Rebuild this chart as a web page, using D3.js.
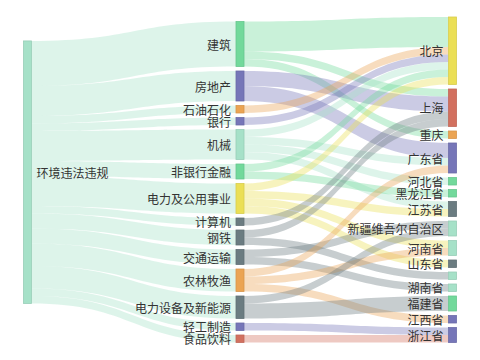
<!DOCTYPE html>
<html><head><meta charset="utf-8">
<script src="https://cdn.jsdelivr.net/npm/d3@7"></script>
<style>body{margin:0;background:#fff}svg{display:block}</style>
</head><body>
<svg id="chart" width="480" height="360"></svg>
<script>
// ---------- data ----------
const rootNodes = ["环境违法违规"];
const industries = ["建筑","房地产","石油石化","银行","机械","非银行金融","电力及公用事业","计算机","钢铁","交通运输","农林牧渔","电力设备及新能源","轻工制造","食品饮料"];
const industryValues = [6,4,1,1,4,2,4,1,2,2,3,3,1,1];
const provinces = ["北京","上海","重庆","广东省","河北省","黑龙江省","江苏省","新疆维吾尔自治区","河南省","山东省","","湖南省","福建省","江西省","浙江省"];
const flowSource = ["建筑","建筑","建筑","房地产","房地产","石油石化","银行","机械","机械","机械","机械","非银行金融","非银行金融","电力及公用事业","电力及公用事业","电力及公用事业","电力及公用事业","计算机","钢铁","钢铁","交通运输","交通运输","农林牧渔","农林牧渔","农林牧渔","电力设备及新能源","电力设备及新能源","轻工制造","食品饮料"];
const flowTarget = ["北京","上海","重庆","上海","广东省","北京","北京","北京","广东省","河北省","江苏省","北京","黑龙江省","北京","江苏省","河南省","山东省","上海","上海","","新疆维吾尔自治区","湖南省","广东省","河南省","江西省","新疆维吾尔自治区","福建省","浙江省","浙江省"];
const flowValue = [4,1,1,2,2,1,1,1,1,1,1,1,1,1,1,1,1,1,1,1,1,1,1,1,1,1,2,1,1];

// ---------- style ----------
const C = {mint:"#a6e1c8", green:"#72d99b", purple:"#7676b8", orange:"#eba453", yellow:"#ebdf55", slate:"#6b7c81", red:"#d2705f"};
const nodeColor = {
  "环境违法违规":C.mint,
  "建筑":C.green,"房地产":C.purple,"石油石化":C.orange,"银行":C.purple,"机械":C.mint,"非银行金融":C.green,
  "电力及公用事业":C.yellow,"计算机":C.slate,"钢铁":C.slate,"交通运输":C.slate,"农林牧渔":C.orange,
  "电力设备及新能源":C.slate,"轻工制造":C.purple,"食品饮料":C.red,
  "北京":C.yellow,"上海":C.red,"重庆":C.orange,"广东省":C.purple,"河北省":C.green,"黑龙江省":C.green,
  "江苏省":C.slate,"新疆维吾尔自治区":C.mint,"河南省":C.mint,"山东省":C.slate,"":C.mint,"湖南省":C.mint,
  "福建省":C.green,"江西省":C.purple,"浙江省":C.purple
};
const layout = {left:23.5, right:456.5, top:17, bottom:342.5, nodeWidth:8, nodeGap:4.5, columnAlign:[0.38,1,0], linkOpacity:0.38};

// ---------- layout ----------
const columns = [rootNodes, industries, provinces];
const nodes = [];
const byName = {};
columns.forEach((col,ci)=>col.forEach((name,i)=>{const n={name,col:ci,idx:i,src:[],tgt:[]};nodes.push(n);byName[name]=n;}));
const links = [];
industries.forEach((name,i)=>links.push({source:byName[rootNodes[0]],target:byName[name],value:industryValues[i]}));
flowSource.forEach((s,i)=>links.push({source:byName[s],target:byName[flowTarget[i]],value:flowValue[i]}));
links.forEach(l=>{l.source.src.push(l);l.target.tgt.push(l);});
nodes.forEach(n=>{n.value=Math.max(d3.sum(n.src,l=>l.value),d3.sum(n.tgt,l=>l.value));});

const maxCount = d3.max(columns,c=>c.length);
const colTotals = columns.map(col=>d3.sum(col,nm=>byName[nm].value));
const total = d3.max(colTotals);
const ky = (layout.bottom-layout.top-(maxCount-1)*layout.nodeGap)/total;
const h = d3.scaleLinear().domain([0,total]).range([0,total*ky]);
const xCol = d3.scaleLinear().domain([0,columns.length-1]).range([layout.left, layout.right-layout.nodeWidth]);

columns.forEach((col,ci)=>{
  const used = h(colTotals[ci]) + (col.length-1)*layout.nodeGap;
  const slack = (layout.bottom-layout.top) - used;
  let y = layout.top + slack*layout.columnAlign[ci];
  col.forEach(nm=>{
    const n = byName[nm];
    n.x0 = xCol(ci); n.x1 = n.x0+layout.nodeWidth;
    n.y0 = y; n.y1 = y + h(n.value);
    y = n.y1 + layout.nodeGap;
  });
});
nodes.forEach(n=>{
  let y = n.y0;
  n.src.slice().sort((a,b)=>a.target.y0-b.target.y0).forEach(l=>{l.sy0=y;l.sy1=y+h(l.value);y=l.sy1;});
  y = n.y0;
  n.tgt.slice().sort((a,b)=>a.source.y0-b.source.y0).forEach(l=>{l.ty0=y;l.ty1=y+h(l.value);y=l.ty1;});
});

// ---------- draw ----------
const svg = d3.select("#chart");
function linkPath(l){
  const x0=l.source.x1, x1=l.target.x0, xm=d3.interpolateNumber(x0,x1)(0.5);
  const p=d3.path();
  p.moveTo(x0,l.sy0);
  p.bezierCurveTo(xm,l.sy0,xm,l.ty0,x1,l.ty0);
  p.lineTo(x1,l.ty1);
  p.bezierCurveTo(xm,l.ty1,xm,l.sy1,x0,l.sy1);
  p.closePath();
  return p.toString();
}
svg.append("g").selectAll("path").data(links).join("path")
  .attr("d",linkPath)
  .attr("fill",l=>nodeColor[l.source.name])
  .attr("fill-opacity",layout.linkOpacity);

svg.append("g").selectAll("rect").data(nodes).join("rect")
  .attr("x",n=>n.x0).attr("y",n=>n.y0)
  .attr("width",layout.nodeWidth).attr("height",n=>n.y1-n.y0)
  .attr("fill",n=>nodeColor[n.name])
  .attr("stroke",n=>d3.color(nodeColor[n.name]).darker(0.25))
  .attr("stroke-width",0.8);

svg.append("g").selectAll("text").data(nodes.filter(n=>n.name!=="")).join("text")
  .attr("x",n=>n.col===0? n.x1+5 : n.x0-5)
  .attr("y",n=>(n.y0+n.y1)/2)
  .attr("text-anchor",n=>n.col===0?"start":"end")
  .attr("dominant-baseline","central")
  .attr("font-family","'Noto Sans CJK SC', sans-serif")
  .attr("font-size",12)
  .attr("fill","#333")
  .text(n=>n.name);
</script>
</body></html>
